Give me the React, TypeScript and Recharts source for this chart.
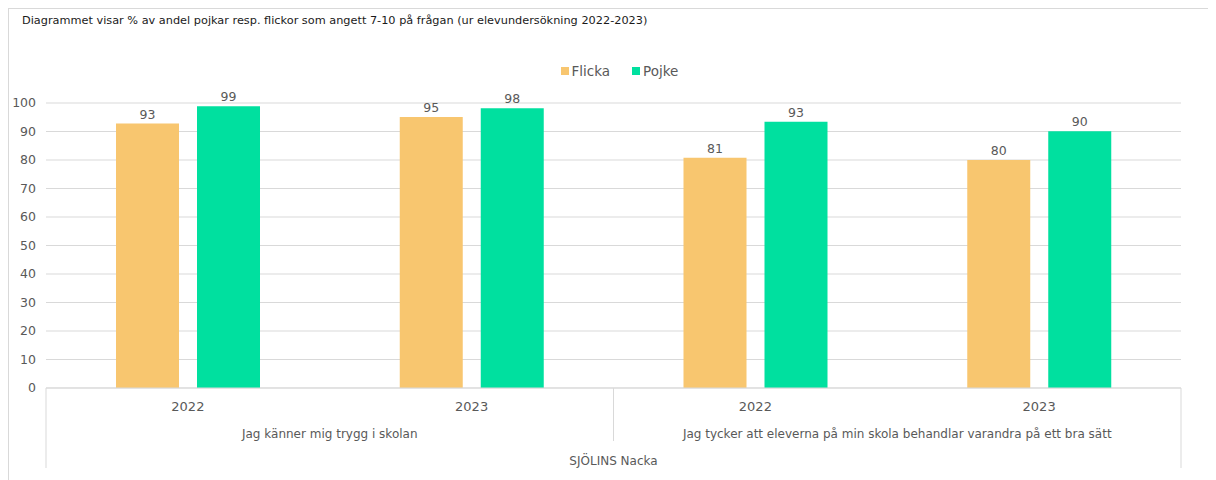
import React from "react";
import { BarChart, Bar, XAxis, YAxis, CartesianGrid, Legend, LabelList } from "recharts";

const years = ["2022", "2023", "2022", "2023"];
const questions = [
  "Jag känner mig trygg i skolan",
  "Jag känner mig trygg i skolan",
  "Jag tycker att eleverna på min skola behandlar varandra på ett bra sätt",
  "Jag tycker att eleverna på min skola behandlar varandra på ett bra sätt",
];
const school = "SJÖLINS Nacka";
const flicka = [92.8, 95.1, 80.8, 80.0];
const pojke = [98.9, 98.2, 93.4, 90.1];
const yTicks = [0, 10, 20, 30, 40, 50, 60, 70, 80, 90, 100];

const data = years.map((year, i) => ({
  key: i,
  year,
  question: questions[i],
  school,
  Flicka: flicka[i],
  Pojke: pojke[i],
}));

const W = 1208;
const H = 472;
const MARGIN = { top: 52, right: 35, bottom: 12, left: 0 };
const Y_W = 38;
const PLOT_W = W - MARGIN.left - MARGIN.right - Y_W;
const FONT = "'DejaVu Sans', sans-serif";
const TEXT = "#595959";
const LINE = "#d9d9d9";
const COLORS = { Flicka: "#f8c66f", Pojke: "#00e09f" };

const YearTick = (props: any) => {
  const { x, y, payload } = props;
  return (
    <text x={x} y={y} dy={23} textAnchor="middle" fill={TEXT} fontSize={13} fontFamily={FONT}>
      {years[payload.value]}
    </text>
  );
};

const QuestionTick = (props: any) => {
  const { x, y, payload, index } = props;
  const sepX = x - PLOT_W / 4;
  return (
    <g>
      {index > 0 && <line x1={sepX} x2={sepX} y1={y - 26} y2={y + 27} stroke={LINE} />}
      <text x={x} y={y} dy={24} textAnchor="middle" fill={TEXT} fontSize={12} fontFamily={FONT}>
        {payload.value}
      </text>
    </g>
  );
};

const SchoolTick = (props: any) => {
  const { x, y, payload } = props;
  return (
    <g>
      <line x1={x - PLOT_W / 2} x2={x - PLOT_W / 2} y1={y - 53} y2={y + 27} stroke={LINE} />
      <line x1={x + PLOT_W / 2} x2={x + PLOT_W / 2} y1={y - 53} y2={y + 27} stroke={LINE} />
      <text x={x} y={y} dy={24} textAnchor="middle" fill={TEXT} fontSize={12} fontFamily={FONT}>
        {payload.value}
      </text>
    </g>
  );
};

const LegendContent = (props: any) => {
  const { payload } = props;
  return (
    <div style={{ display: "flex", justifyContent: "center", gap: 22, height: 22, alignItems: "center", paddingLeft: 50 }}>
      {payload.map((p: any) => (
        <div key={p.value} style={{ display: "flex", alignItems: "center", fontFamily: FONT, fontSize: 13.5, color: TEXT }}>
          <span style={{ display: "inline-block", width: 8, height: 8, background: p.color, marginRight: 3 }} />
          {p.value}
        </div>
      ))}
    </div>
  );
};

export default function App() {
  return (
    <div
      style={{
        position: "relative",
        width: W,
        height: H,
        borderTop: `1px solid ${LINE}`,
        borderLeft: `1px solid ${LINE}`,
        boxSizing: "border-box",
      }}
    >
      <div
        style={{
          position: "absolute",
          left: 13,
          top: 5,
          fontFamily: FONT,
          fontSize: 11.3,
          lineHeight: "14px",
          color: "#1a1a1a",
          whiteSpace: "nowrap",
        }}
      >
        Diagrammet visar % av andel pojkar resp. flickor som angett 7-10 på frågan (ur elevundersökning 2022-2023)
      </div>
      <div style={{ position: "absolute", left: -1, top: -1 }}>
        <BarChart width={W} height={H} data={data} margin={MARGIN} barSize={63} barGap={18}>
          <CartesianGrid vertical={false} stroke={LINE} />
          <Legend verticalAlign="top" align="center" height={43} content={<LegendContent />} />
          <YAxis
            domain={[0, 100]}
            ticks={yTicks}
            width={Y_W}
            axisLine={false}
            tickLine={false}
            tickSize={0}
            tickMargin={10}
            interval={0}
            tick={{ fill: TEXT, fontSize: 12.5, fontFamily: FONT }}
          />
          <XAxis
            xAxisId="axis1year"
            dataKey="key"
            height={26}
            axisLine={{ stroke: LINE }}
            tickLine={false}
            tickSize={0}
            tickMargin={0}
            interval={0}
            tick={<YearTick />}
          />
          <XAxis
            xAxisId="axis2question"
            dataKey="question"
            allowDuplicatedCategory={false}
            height={27}
            axisLine={false}
            tickLine={false}
            tickSize={0}
            tickMargin={0}
            interval={0}
            tick={<QuestionTick />}
          />
          <XAxis
            xAxisId="axis3school"
            dataKey="school"
            allowDuplicatedCategory={false}
            height={27}
            axisLine={false}
            tickLine={false}
            tickSize={0}
            tickMargin={0}
            interval={0}
            tick={<SchoolTick />}
          />
          <Bar xAxisId="axis1year" dataKey="Flicka" fill={COLORS.Flicka} isAnimationActive={false}>
            <LabelList
              dataKey="Flicka"
              position="top"
              fill={TEXT}
              fontSize={12.5}
              fontFamily={FONT}
              formatter={(v: any) => Math.round(Number(v))}
            />
          </Bar>
          <Bar xAxisId="axis1year" dataKey="Pojke" fill={COLORS.Pojke} isAnimationActive={false}>
            <LabelList
              dataKey="Pojke"
              position="top"
              fill={TEXT}
              fontSize={12.5}
              fontFamily={FONT}
              formatter={(v: any) => Math.round(Number(v))}
            />
          </Bar>
        </BarChart>
      </div>
    </div>
  );
}
